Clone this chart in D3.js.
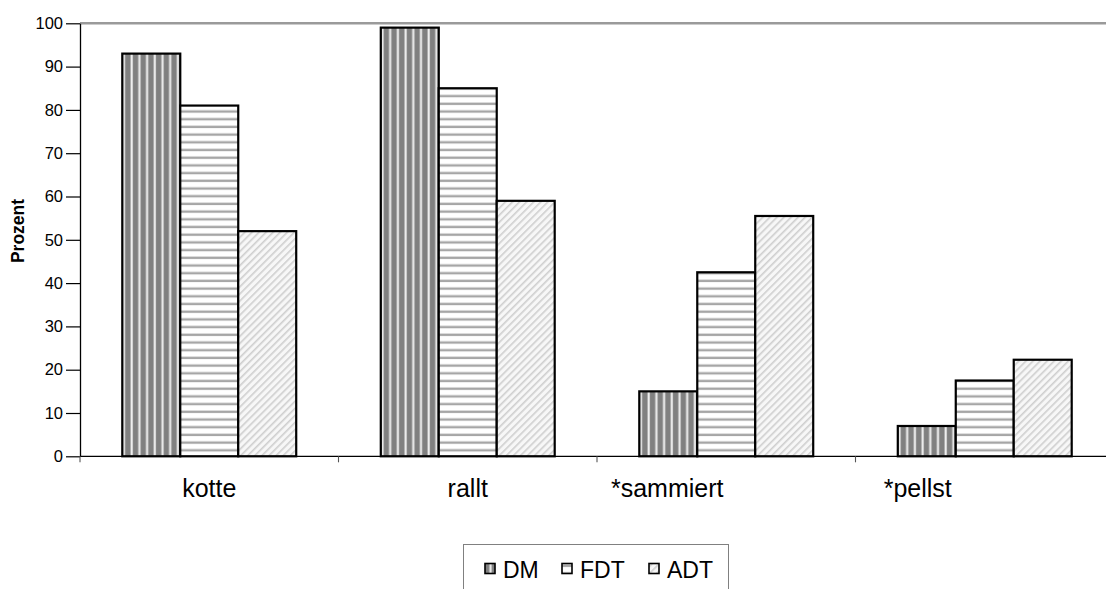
<!DOCTYPE html>
<html>
<head>
<meta charset="utf-8">
<script src="https://cdn.jsdelivr.net/npm/d3@7"></script>
<style>
  html, body { margin: 0; padding: 0; background: #fff; }
  svg { display: block; font-family: "Liberation Sans", Arial, sans-serif; }
</style>
</head>
<body>
<svg id="chart" width="1106" height="589"></svg>
<script>
// Category labels, series names and values (percent)
const categories = ["kotte", "rallt", "*sammiert", "*pellst"];
const seriesNames = ["DM", "FDT", "ADT"];
const dmValues  = [93, 99, 15, 7];
const fdtValues = [81, 85, 42.5, 17.5];
const adtValues = [52, 59, 55.5, 22.3];
const yTicks = [0, 10, 20, 30, 40, 50, 60, 70, 80, 90, 100];
const yLabel = "Prozent";

const seriesValues = { DM: dmValues, FDT: fdtValues, ADT: adtValues };

const svg = d3.select("#chart");
const plot = { left: 80, right: 1114, top: 23.3, bottom: 456.3 };

// Hatch patterns for the three series
const defs = svg.append("defs");

const pDM = defs.append("pattern").attr("id", "pat-DM")
  .attr("patternUnits", "userSpaceOnUse").attr("width", 7.7).attr("height", 10);
pDM.append("rect").attr("width", 7.7).attr("height", 10).attr("fill", "#808080");
pDM.append("rect").attr("x", 4.2).attr("width", 2.6).attr("height", 10).attr("fill", "#c8c8c8");
pDM.append("rect").attr("x", 4.9).attr("width", 1.2).attr("height", 10).attr("fill", "#f2f2f2");

const pFDT = defs.append("pattern").attr("id", "pat-FDT")
  .attr("patternUnits", "userSpaceOnUse").attr("width", 10).attr("height", 7.7);
pFDT.append("rect").attr("width", 10).attr("height", 7.7).attr("fill", "#ffffff");
pFDT.append("rect").attr("y", 2.5).attr("width", 10).attr("height", 2.4).attr("fill", "#a6a6a6");

const pADT = defs.append("pattern").attr("id", "pat-ADT")
  .attr("patternUnits", "userSpaceOnUse").attr("width", 5).attr("height", 5)
  .attr("patternTransform", "rotate(45)");
pADT.append("rect").attr("width", 5).attr("height", 5).attr("fill", "#f7f7f7");
pADT.append("rect").attr("width", 1.6).attr("height", 5).attr("fill", "#cfcfcf");

// Scales
const x0 = d3.scaleBand().domain(categories).range([plot.left, plot.right]).padding(0);
const bw = x0.bandwidth();
const x1 = d3.scaleBand().domain(seriesNames).range([bw * 0.1636, bw * (1 - 0.1636)]).padding(0);
const y = d3.scaleLinear().domain([0, 100]).range([plot.bottom, plot.top]);

// Top border line at 100
svg.append("line")
  .attr("x1", plot.left).attr("x2", 1106)
  .attr("y1", y(100)).attr("y2", y(100))
  .attr("stroke", "#9a9a9a").attr("stroke-width", 2.4);

// Bars
const groups = svg.append("g").selectAll("g")
  .data(categories).join("g")
  .attr("transform", d => `translate(${x0(d)},0)`);

groups.selectAll("rect")
  .data((c, i) => seriesNames.map(s => ({ s, v: seriesValues[s][i] })))
  .join("rect")
  .attr("x", d => x1(d.s))
  .attr("y", d => y(d.v))
  .attr("width", x1.bandwidth())
  .attr("height", d => y(0) - y(d.v))
  .attr("fill", d => `url(#pat-${d.s})`)
  .attr("stroke", "#000")
  .attr("stroke-width", 2.2);

// Y axis
const yAxis = svg.append("g")
  .attr("transform", `translate(${plot.left},0)`)
  .call(d3.axisLeft(y).tickValues(yTicks).tickSize(14).tickPadding(3).tickSizeOuter(0));
yAxis.select(".domain").attr("stroke", "#000").attr("stroke-width", 1.3);
yAxis.selectAll(".tick line").attr("stroke", "#000").attr("stroke-width", 1.2);
yAxis.selectAll(".tick text")
  .attr("font-size", 16.5).attr("fill", "#000")
  .attr("font-family", "Liberation Sans, Arial, sans-serif");

// X axis with boundary ticks
svg.append("line")
  .attr("x1", plot.left).attr("x2", 1106)
  .attr("y1", y(0)).attr("y2", y(0))
  .attr("stroke", "#000").attr("stroke-width", 1.3);
svg.append("g").selectAll("line")
  .data(categories).join("line")
  .attr("x1", d => x0(d)).attr("x2", d => x0(d))
  .attr("y1", y(0)).attr("y2", y(0) + 6)
  .attr("stroke", "#555").attr("stroke-width", 1.1);

// Category labels; the starred ones sit a little left of their band centre
const labelShift = { "*sammiert": -59, "*pellst": -67 };
svg.append("g").selectAll("text")
  .data(categories).join("text")
  .attr("x", d => x0(d) + bw / 2 + (labelShift[d] || 0))
  .attr("y", 497)
  .attr("text-anchor", "middle")
  .attr("font-size", 25)
  .attr("fill", "#000")
  .text(d => d);

// Y axis title
svg.append("text")
  .attr("transform", `translate(23.5,231) rotate(-90)`)
  .attr("text-anchor", "middle")
  .attr("font-size", 17.5)
  .attr("font-weight", "bold")
  .attr("fill", "#000")
  .text(yLabel);

// Legend
const legend = svg.append("g");
legend.append("rect")
  .attr("x", 463.5).attr("y", 544.5).attr("width", 265).attr("height", 60)
  .attr("fill", "#fff").attr("stroke", "#808080").attr("stroke-width", 1);

const legendX = [485, 562, 649];
const items = legend.selectAll("g.item")
  .data(seriesNames).join("g").attr("class", "item")
  .attr("transform", (d, i) => `translate(${legendX[i]},0)`);
items.append("rect")
  .attr("x", 0).attr("y", 563.5).attr("width", 10).attr("height", 10)
  .attr("fill", d => `url(#pat-${d})`)
  .attr("stroke", "#000").attr("stroke-width", 1.6);
items.append("text")
  .attr("x", 18).attr("y", 578.3)
  .attr("font-size", 23)
  .attr("fill", "#000")
  .text(d => d);
</script>
</body>
</html>
